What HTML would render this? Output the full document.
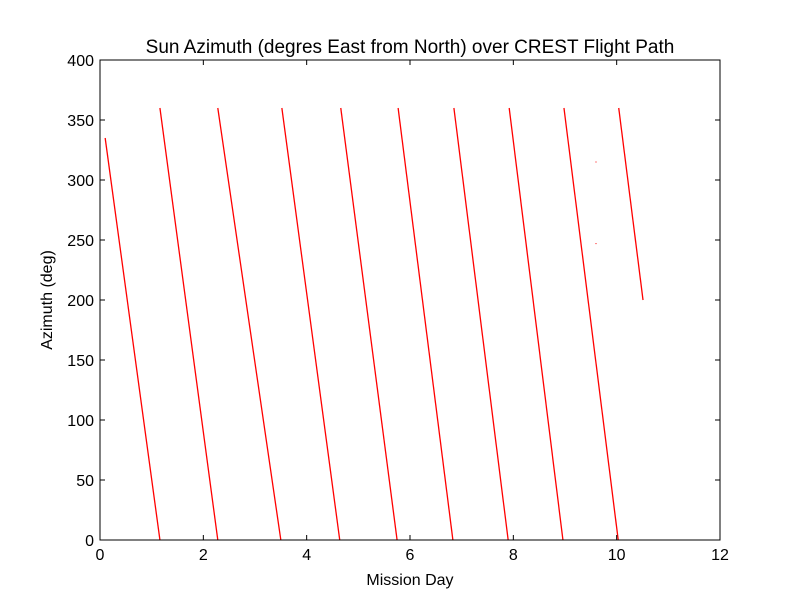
<!DOCTYPE html>
<html><head><meta charset="utf-8"><style>
body{margin:0;background:#fff;}
svg{display:block;font-family:"Liberation Sans",sans-serif;}
</style></head><body>
<svg id="chart" width="800" height="600">
<rect width="800" height="600" fill="#fff"/>
<text x="410" y="53" font-size="19" text-anchor="middle">Sun Azimuth (degres East from North) over CREST Flight Path</text>
<text x="410" y="585" font-size="16" text-anchor="middle">Mission Day</text>
<text x="52" y="300" font-size="16" text-anchor="middle" transform="rotate(-90 52 300)">Azimuth (deg)</text>
<g id="marks"></g>
<g id="axes"></g>
</svg>
<script>
const segStartDay=[0.10,1.16,2.28,3.52,4.66,5.77,6.85,7.92,8.98,10.04];
const segEndDay=[1.16,2.28,3.50,4.64,5.75,6.83,7.90,8.96,10.03,10.51];
const segStartAz=[335,360,360,360,360,360,360,360,360,360];
const segEndAz=[0,0,0,0,0,0,0,0,0,200];
const strayDay=[9.6,9.6];
const strayAz=[315,247];
const xTicks=[0,2,4,6,8,10,12];
const yTicks=[0,50,100,150,200,250,300,350,400];
const L=100,R=720,T=60,B=540;
const xs=d=>L+(d-0)/12*(R-L);
const ys=a=>B-(a/400)*(B-T);
const NS="http://www.w3.org/2000/svg";
const marks=document.getElementById('marks'),axes=document.getElementById('axes');
function mk(tag,attrs,parent){const e=document.createElementNS(NS,tag);for(const k in attrs)e.setAttribute(k,attrs[k]);parent.appendChild(e);return e;}
segStartDay.forEach((d,i)=>{
  const l=mk('line',{x1:xs(d),y1:ys(segStartAz[i]),x2:xs(segEndDay[i]),y2:ys(segEndAz[i]),stroke:'#ff0000','stroke-width':1.3},marks);
  
  
});
strayDay.forEach((d,i)=>{
  const r=mk('rect',{x:xs(d)-0.5,y:ys(strayAz[i])-0.5,width:1,height:1,fill:'#ff0000'},marks);
  
  
});
const fr=mk('rect',{x:L,y:T,width:R-L,height:B-T,fill:'none',stroke:'#000','stroke-width':1},axes);


xTicks.forEach(t=>{
  const x=xs(t);
  mk('line',{x1:x,y1:B,x2:x,y2:B-5,stroke:'#000'},axes);
  mk('line',{x1:x,y1:T,x2:x,y2:T+5,stroke:'#000'},axes);
  const tx=mk('text',{x:x,y:B+20,'font-size':16,'text-anchor':'middle'},axes);
  tx.textContent=t;
  
  
});
yTicks.forEach(t=>{
  const y=ys(t);
  mk('line',{x1:L,y1:y,x2:L+5,y2:y,stroke:'#000'},axes);
  mk('line',{x1:R,y1:y,x2:R-5,y2:y,stroke:'#000'},axes);
  const tx=mk('text',{x:L-6,y:y+6,'font-size':16,'text-anchor':'end'},axes);
  tx.textContent=t;
  
  
});
</script>
</body></html>
